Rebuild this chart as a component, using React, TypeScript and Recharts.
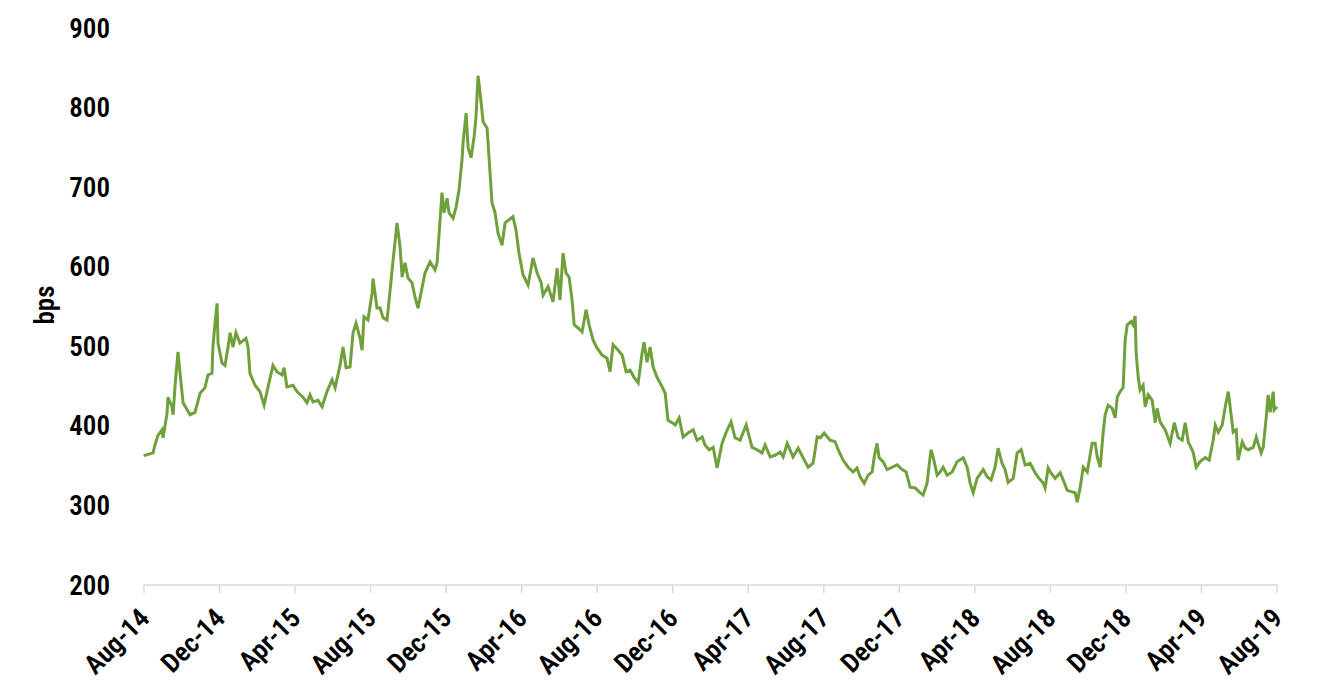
import React from "react";
import { LineChart, Line, XAxis, YAxis } from "recharts";

// months since Aug-14 (fractional) and spread in bps
const months = [
  0, 0.05, 0.48, 0.58, 0.74, 0.95, 1.01, 1.22, 1.27, 1.48, 1.54, 1.64, 1.8, 1.91, 2.07, 2.44, 2.7, 2.97,
  3.23, 3.39, 3.6, 3.65, 3.76, 3.87, 3.92, 4.13, 4.29, 4.45, 4.56, 4.71, 4.87, 5.08, 5.4, 5.51, 5.61, 5.88,
  6.14, 6.36, 6.57, 6.83, 7.04, 7.31, 7.42, 7.57, 7.89, 8.1, 8.42, 8.63, 8.79, 8.95, 9.22, 9.43, 9.69, 9.96,
  10.12, 10.38, 10.54, 10.7, 10.91, 11.07, 11.23, 11.44, 11.55, 11.65, 11.86, 12.08, 12.13, 12.34, 12.5,
  12.66, 12.87, 12.98, 13.19, 13.4, 13.56, 13.67, 13.82, 13.98, 14.19, 14.35, 14.51, 14.67, 14.88, 15.15,
  15.41, 15.52, 15.68, 15.78, 15.89, 16.05, 16.15, 16.37, 16.53, 16.68, 16.84, 16.9, 17.06, 17.16, 17.32,
  17.48, 17.58, 17.69, 17.8, 17.96, 18.17, 18.27, 18.43, 18.59, 18.75, 18.96, 19.12, 19.33, 19.54, 19.7,
  19.86, 20.07, 20.34, 20.6, 20.82, 21.03, 21.13, 21.4, 21.66, 21.88, 22.03, 22.19, 22.35, 22.51, 22.67,
  22.78, 22.99, 23.2, 23.41, 23.57, 23.78, 23.99, 24.26, 24.52, 24.68, 24.84, 25.11, 25.32, 25.53, 25.74,
  25.95, 26.17, 26.38, 26.48, 26.64, 26.8, 26.96, 27.17, 27.44, 27.6, 27.75, 27.97, 28.13, 28.34, 28.55,
  28.81, 29.08, 29.29, 29.56, 29.71, 29.93, 30.14, 30.35, 30.61, 30.83, 31.09, 31.3, 31.57, 31.89, 32.2,
  32.47, 32.73, 32.89, 33.16, 33.42, 33.69, 33.85, 34.06, 34.37, 34.64, 34.9, 35.17, 35.43, 35.65, 35.81,
  36.02, 36.33, 36.6, 36.76, 37.02, 37.29, 37.55, 37.76, 37.92, 38.14, 38.35, 38.56, 38.67, 38.82, 38.93,
  39.14, 39.35, 39.62, 39.88, 40.15, 40.36, 40.57, 40.84, 41.05, 41.26, 41.47, 41.58, 41.68, 41.79, 42.0,
  42.16, 42.32, 42.53, 42.8, 43.06, 43.38, 43.59, 43.75, 43.91, 44.12, 44.44, 44.65, 44.86, 45.07, 45.23,
  45.44, 45.6, 45.76, 46.03, 46.24, 46.45, 46.66, 46.93, 47.19, 47.4, 47.62, 47.72, 47.88, 47.99, 48.25,
  48.52, 48.68, 48.89, 49.15, 49.31, 49.42, 49.58, 49.74, 49.95, 50.21, 50.37, 50.48, 50.64, 50.79, 50.9,
  51.06, 51.27, 51.43, 51.54, 51.69, 51.85, 51.96, 52.07, 52.28, 52.38, 52.49, 52.54, 52.65, 52.75, 52.91,
  53.02, 53.18, 53.39, 53.55, 53.65, 53.81, 54.08, 54.34, 54.56, 54.77, 54.98, 55.14, 55.3, 55.56, 55.72,
  55.93, 56.2, 56.41, 56.62, 56.73, 56.89, 57.1, 57.26, 57.42, 57.57, 57.68, 57.84, 57.94, 58.16, 58.32,
  58.47, 58.74, 58.9, 59.0, 59.16, 59.27, 59.43, 59.53, 59.64, 59.8, 59.85, 60,
];

const spread = [
  362, 363, 366, 376, 388, 395, 385, 416, 436, 424, 414, 449, 493, 466, 429, 414, 417, 441,
  448, 464, 466, 499, 529, 554, 504, 479, 476, 499, 517, 499, 517, 504, 510, 499, 466, 451,
  443, 426, 449, 476, 468, 464, 473, 449, 451, 443, 436, 429, 439, 430, 432, 424, 443, 458,
  448, 476, 499, 473, 474, 517, 529, 510, 495, 537, 533, 567, 585, 548, 548,
  536, 533, 558, 608, 655, 625, 587, 605, 586, 580, 562, 548, 567, 592, 606,
  596, 605, 659, 693, 668, 686, 668, 661, 675, 696, 734, 757, 793, 750, 737,
  763, 788, 840, 818, 782, 774, 738, 680, 668, 642, 627, 655, 659, 663, 646,
  617, 590, 577, 611, 592, 580, 564, 575, 556, 598, 558, 617, 592, 587, 558,
  527, 523, 518, 546, 527, 508, 498, 489, 485, 468, 502, 495, 489, 468, 470,
  461, 454, 492, 505, 480, 499, 474, 461, 449, 441, 407, 404, 401, 410, 386,
  391, 395, 382, 386, 376, 370, 373, 347, 378, 392, 405, 385, 382, 401, 373,
  370, 366, 376, 361, 363, 367, 361, 378, 361, 372, 360, 348, 353, 386, 385,
  391, 382, 380, 370, 357, 348, 342, 347, 336, 328, 338, 342, 361, 378, 360,
  355, 345, 348, 351, 345, 342, 323, 322, 317, 313, 328, 351, 370, 361, 338,
  342, 348, 338, 342, 355, 360, 348, 328, 316, 334, 345, 336, 332, 348, 372,
  353, 345, 329, 334, 366, 370, 351, 353, 341, 334, 328, 322, 347, 342, 334,
  341, 332, 319, 317, 316, 304, 323, 348, 342, 378, 378, 361, 348, 391, 414,
  426, 422, 410, 436, 443, 448, 508, 527, 531, 527, 538, 492, 461, 445, 451,
  424, 439, 432, 404, 422, 405, 395, 378, 404, 385, 382, 404, 380, 367, 348,
  355, 360, 357, 382, 401, 392, 401, 424, 443, 414, 392, 395, 357, 380, 372,
  370, 373, 386, 378, 366, 373, 411, 439, 417, 443, 420, 424,
];

const tickMonths = [0, 4, 8, 12, 16, 20, 24, 28, 32, 36, 40, 44, 48, 52, 56, 60];
const tickLabels = [
  "Aug-14", "Dec-14", "Apr-15", "Aug-15", "Dec-15", "Apr-16", "Aug-16", "Dec-16",
  "Apr-17", "Aug-17", "Dec-17", "Apr-18", "Aug-18", "Dec-18", "Apr-19", "Aug-19",
];
const yTicks = [200, 300, 400, 500, 600, 700, 800, 900];

const data = months.map((t, i) => ({ t, bps: spread[i] }));

const FONT = "'Arial Narrow', 'Roboto Condensed', sans-serif";
const WEIGHT = 600;

function DateTick(props: any) {
  const { x, y, payload } = props;
  const idx = tickMonths.indexOf(payload.value);
  const ax = x + 7;
  const ay = y + 27;
  return (
    <text
      x={ax}
      y={ay}
      transform={`rotate(-45, ${ax}, ${ay})`}
      textAnchor="end"
      fontFamily={FONT}
      fontWeight={WEIGHT}
      fontSize={27}
      fill="#000"
    >
      {tickLabels[idx]}
    </text>
  );
}

export default function App() {
  return (
    <div style={{ width: 1310, height: 680 }}>
      <LineChart
        width={1310}
        height={680}
        data={data}
        margin={{ top: 20, right: 41, bottom: 13, left: 0 }}
      >
        <XAxis
          dataKey="t"
          type="number"
          domain={[0, 60]}
          ticks={tickMonths}
          interval={0}
          height={90}
          axisLine={{ stroke: "#d9d9d9", strokeWidth: 1.5 }}
          tickLine={{ stroke: "#d9d9d9", strokeWidth: 1.5 }}
          tickSize={8}
          tickMargin={0}
          tick={<DateTick />}
        />
        <YAxis
          type="number"
          domain={[200, 900]}
          ticks={yTicks}
          interval={0}
          width={136}
          axisLine={false}
          tickLine={false}
          tickSize={6}
          tickMargin={28}
          tick={{ fontFamily: FONT, fontWeight: WEIGHT, fontSize: 27, fill: "#000" }}
        />
        <text
          x={37}
          y={297}
          transform="rotate(-90, 37, 297)"
          textAnchor="middle"
          dominantBaseline="central"
          fontFamily={FONT}
          fontWeight={WEIGHT}
          fontSize={27}
          fill="#000"
        >
          bps
        </text>
        <Line
          type="linear"
          dataKey="bps"
          stroke="#70a03c"
          strokeWidth={3}
          dot={false}
          isAnimationActive={false}
        />
      </LineChart>
    </div>
  );
}
